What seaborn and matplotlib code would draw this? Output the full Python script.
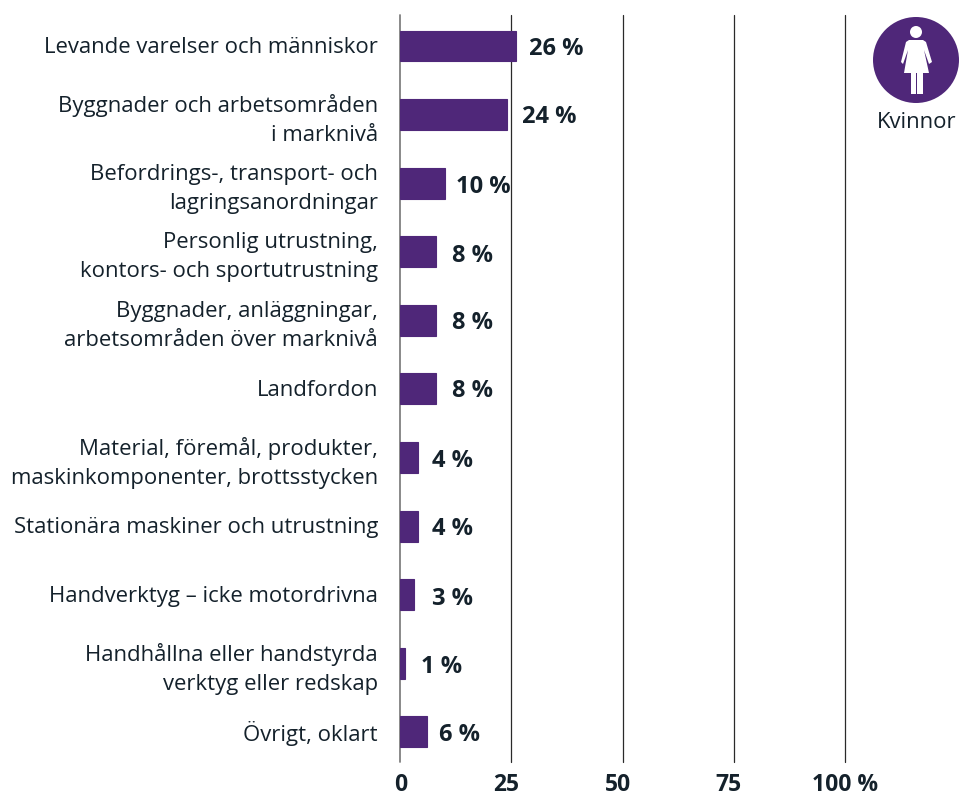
import matplotlib
matplotlib.use('Agg')
import pandas as pd
import seaborn as sns
import matplotlib.pyplot as plt
from matplotlib.patches import Circle, Polygon, Rectangle
from matplotlib.transforms import ScaledTranslation

# Data
categories = [
    'Levande varelser och människor',
    'Byggnader och arbetsområden\ni marknivå',
    'Befordrings-, transport- och\nlagringsanordningar',
    'Personlig utrustning,\nkontors- och sportutrustning',
    'Byggnader, anläggningar,\narbetsområden över marknivå',
    'Landfordon',
    'Material, föremål, produkter,\nmaskinkomponenter, brottsstycken',
    'Stationära maskiner och utrustning',
    'Handverktyg – icke motordrivna',
    'Handhållna eller handstyrda\nverktyg eller redskap',
    'Övrigt, oklart',
]
values = [26, 24, 10, 8, 8, 8, 4, 4, 3, 1, 6]
value_labels = ['26 %', '24 %', '10 %', '8 %', '8 %', '8 %', '4 %', '4 %', '3 %', '1 %', '6 %']
ticks = [0, 25, 50, 75, 100]
tick_labels = ['0', '25', '50', '75', '100 %']

# small manual nudges so labels sit like the original
label_dx = [13, 15, 11, 16, 16, 16, 14, 14, 18, 16, 12]
label_dy = [3, 2, 4, 4, 3, 2, 4, 3, 4, 4, 3]
tick_dx = [0, -5, -5, -5, 0]

PURPLE = '#4f2779'
DARK = '#14212b'
W, H = 959, 796

sns.set_theme(style='white')
plt.rcParams['font.family'] = ['Open Sans', 'DejaVu Sans']

df = pd.DataFrame({'category': categories, 'value': values})

fig = plt.figure(figsize=(W / 100, H / 100), dpi=100)
left, right, top, bottom = 400.3, 845, 15, 762
ax = fig.add_axes([left / W, 1 - bottom / H, (right - left) / W, (bottom - top) / H])

sns.barplot(data=df, x='value', y='category', color=PURPLE, saturation=1, width=0.45,
            linewidth=0.8, edgecolor=PURPLE, ax=ax, zorder=3)

ax.set_xlim(0, 100)
ax.set_ylim(10.44, -0.452)
ax.set_xlabel('')
ax.set_ylabel('')
sns.despine(ax=ax, left=True, bottom=True, top=True, right=True)

ax.set_xticks(ticks)
ax.set_xticklabels(tick_labels, fontsize=16.5, fontweight='bold', color=DARK)
ax.tick_params(axis='x', length=0, pad=8)
for lab, dx in zip(ax.get_xticklabels(), tick_dx):
    lab.set_transform(lab.get_transform() + ScaledTranslation(dx / 100, 0, fig.dpi_scale_trans))

for t in ticks[1:]:
    ax.axvline(t, color='#2a2a2a', lw=0.9, zorder=1, clip_on=False)
ax.axvline(0, color='#808080', lw=1.3, zorder=1, clip_on=False)

ax.set_yticks(range(len(categories)))
ax.set_yticklabels(categories, fontsize=15.9, color=DARK, linespacing=1.5, ha='right', ma='right')
ax.tick_params(axis='y', length=0, pad=16)
for lab in ax.get_yticklabels():
    lab.set_transform(lab.get_transform() + ScaledTranslation(0, 1 / 100, fig.dpi_scale_trans))

for i, (v, s) in enumerate(zip(values, value_labels)):
    ax.annotate(s, (v, i), xytext=(label_dx[i] * 0.72, -label_dy[i] * 0.72), textcoords='offset points',
                ha='left', va='center', fontsize=17, fontweight='bold', color=DARK)

# woman icon, drawn in pixel coordinates
icon = fig.add_axes([0, 0, 1, 1], facecolor='none')
icon.set_xlim(0, W)
icon.set_ylim(H, 0)
icon.axis('off')
icon.add_patch(Circle((916, 60), 43, color=PURPLE, lw=0))
icon.add_patch(Circle((916, 32), 6, color='white', lw=0))
icon.add_patch(Polygon([(909, 40), (923, 40), (926, 42), (932, 62), (929, 64), (924, 50), (929, 73),
                        (904, 73), (908, 50), (903, 64), (901, 62), (906, 42)], color='white', lw=0))
icon.add_patch(Rectangle((910.6, 72), 5.2, 22, color='white', lw=0))
icon.add_patch(Rectangle((917.3, 72), 5.2, 22, color='white', lw=0))
icon.text(917, 123, 'Kvinnor', ha='center', va='center', fontsize=15.9, color=DARK)

fig.savefig('out.png', dpi=100)
